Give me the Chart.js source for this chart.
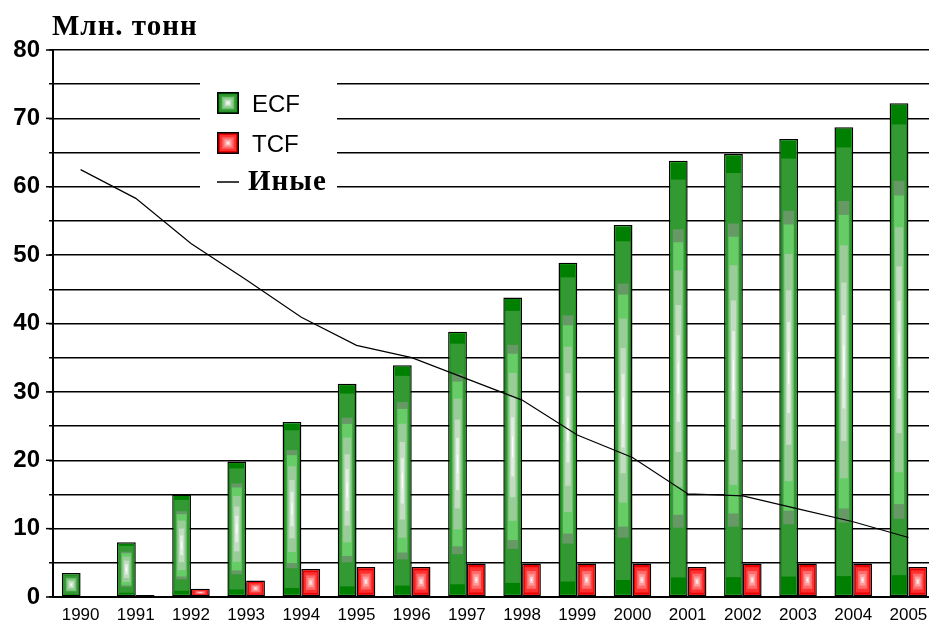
<!DOCTYPE html>
<html>
<head>
<meta charset="utf-8">
<script src="https://cdn.jsdelivr.net/npm/chart.js@4"></script>
<style>
  html, body { margin: 0; padding: 0; background: #fff; overflow: hidden; }
  #wrap { position: absolute; left: 0; top: 0; width: 936px; height: 621px; }
</style>
</head>
<body>
<div id="wrap"><canvas id="c"></canvas></div>
<script>
// Production by bleaching technology, million tonnes
const years = ['1990','1991','1992','1993','1994','1995','1996','1997','1998','1999','2000','2001','2002','2003','2004','2005'];
const ecfValues = [3.5, 8.0, 15.0, 19.8, 25.6, 31.2, 33.9, 38.8, 43.8, 48.9, 54.4, 63.8, 64.8, 67.0, 68.7, 72.2];
const tcfValues = [null, 0.3, 1.2, 2.4, 4.1, 4.4, 4.4, 4.9, 4.9, 4.9, 4.9, 4.4, 4.9, 4.9, 4.9, 4.4];
const otherValues = [62.5, 58.3, 51.7, 46.4, 40.9, 36.8, 35.0, 31.9, 28.8, 23.7, 20.4, 15.1, 14.8, 12.9, 11.0, 8.7];
const seriesLabels = ['ECF', 'TCF', 'Иные'];
const unitLabel = 'Млн. тонн';
const yTicks = { min: 0, max: 80, step: 5, labelStep: 10 };

// Stepped "from centre" shading: [fraction of half-size inset, colour]
const GREEN_BANDS = [[0,'#008000'],[0.08,'#339933'],[0.31,'#669966'],[0.37,'#66cc66'],[0.5,'#99cc99'],[0.66,'#c2dcc2'],[0.8,'#e3eee3'],[0.93,'#ffffff']];
const RED_BANDS = [[0,'#e80000'],[0.15,'#ff3030'],[0.4,'#ff6a6a'],[0.62,'#ff9d9d'],[0.8,'#ffcfcf'],[0.93,'#ffffff']];

function boxFill(ctx, left, top, w, h, bands) {
  const hw = w / 2, hh = h / 2;
  for (const [t, c] of bands) {
    ctx.fillStyle = c;
    ctx.fillRect(left + t * hw, top + t * hh, w - 2 * t * hw, h - 2 * t * hh);
  }
}

// Paints the shaded interior of every bar, inside the library-drawn border
const barShading = {
  id: 'barShading',
  afterDatasetDraw(chart, args) {
    const meta = args.meta;
    if (meta.type !== 'bar') return;
    const ds = chart.data.datasets[args.index];
    const bands = ds.shade === 'red' ? RED_BANDS : GREEN_BANDS;
    const bw = ds.borderWidth;
    const ctx = chart.ctx;
    ctx.save();
    meta.data.forEach((el, i) => {
      if (ds.data[i] == null) return;
      const p = el.getProps(['x', 'y', 'base', 'width'], true);
      const left = p.x - p.width / 2 + bw;
      const top = Math.min(p.y, p.base) + bw;
      const w = p.width - 2 * bw;
      const h = Math.abs(p.base - p.y) - 2 * bw;
      if (w > 0 && h > 0) boxFill(ctx, left, top, w, h, bands);
    });
    ctx.restore();
  }
};

// Longer tick marks at labelled values, unit caption and the inset legend
const decorations = {
  id: 'decorations',
  afterDraw(chart) {
    const ctx = chart.ctx;
    const ys = chart.scales.y;
    const left = chart.chartArea.left;
    ctx.save();
    ctx.strokeStyle = '#000';
    ctx.lineWidth = 1.5;
    for (let v = yTicks.min; v <= yTicks.max; v += yTicks.labelStep) {
      const py = ys.getPixelForValue(v);
      ctx.beginPath();
      ctx.moveTo(left - 7, py);
      ctx.lineTo(left, py);
      ctx.stroke();
    }

    // unit caption
    ctx.fillStyle = '#000';
    ctx.font = 'bold 29px "Liberation Serif", "DejaVu Serif", serif';
    ctx.letterSpacing = '1px';
    ctx.textAlign = 'left';
    ctx.textBaseline = 'alphabetic';
    ctx.fillText(unitLabel, 52, 35);
    ctx.letterSpacing = '0px';

    // legend
    ctx.fillStyle = '#fff';
    ctx.fillRect(200, 62, 137, 138);
    const swatch = (x, y, bands) => {
      ctx.fillStyle = '#000';
      ctx.fillRect(x, y, 22, 22);
      boxFill(ctx, x + 1.5, y + 1.5, 19, 19, bands);
    };
    swatch(217, 92, GREEN_BANDS);
    swatch(217, 132, RED_BANDS);
    ctx.fillStyle = '#000';
    ctx.font = '24px "Liberation Sans", Arial, sans-serif';
    ctx.textBaseline = 'alphabetic';
    ctx.fillText(chart.data.datasets[1].label, 252, 112);
    ctx.fillText(chart.data.datasets[2].label, 252, 152);
    ctx.beginPath();
    ctx.strokeStyle = '#000';
    ctx.lineWidth = 1.5;
    ctx.moveTo(217, 182);
    ctx.lineTo(239, 182);
    ctx.stroke();
    ctx.font = 'bold 29px "Liberation Serif", "DejaVu Serif", serif';
    ctx.letterSpacing = '1px';
    ctx.fillText(chart.data.datasets[0].label, 248, 190);
    ctx.letterSpacing = '0px';
    ctx.restore();
  }
};

Chart.defaults.font.family = '"Liberation Sans", Arial, sans-serif';
Chart.defaults.color = '#000';

new Chart(document.getElementById('c'), {
  type: 'bar',
  data: {
    labels: years,
    datasets: [
      {
        type: 'line',
        label: seriesLabels[2],
        data: otherValues,
        borderColor: '#000',
        borderWidth: 1.2,
        pointRadius: 0,
        tension: 0,
        fill: false,
        order: 0
      },
      {
        label: seriesLabels[0],
        data: ecfValues,
        shade: 'green',
        backgroundColor: '#66cc66',
        borderColor: '#000',
        borderWidth: 1.5,
        borderSkipped: false,
        categoryPercentage: 0.68,
        barPercentage: 1.0,
        order: 1
      },
      {
        label: seriesLabels[1],
        data: tcfValues,
        shade: 'red',
        backgroundColor: '#ff6666',
        borderColor: '#000',
        borderWidth: 1.5,
        borderSkipped: false,
        categoryPercentage: 0.68,
        barPercentage: 1.0,
        order: 2
      }
    ]
  },
  options: {
    responsive: true,
    maintainAspectRatio: false,
    devicePixelRatio: 1,
    animation: false,
    layout: { padding: { top: 50, right: 0, left: 0, bottom: 0 } },
    plugins: {
      legend: { display: false },
      tooltip: { enabled: false },
      title: { display: false }
    },
    scales: {
      x: {
        grid: { display: false },
        border: { display: true, color: '#000', width: 2 },
        ticks: {
          font: { size: 17 },
          color: '#000',
          padding: 0,
          maxRotation: 0,
          autoSkip: false
        },
        afterFit(scale) { scale.height = 24; }
      },
      y: {
        min: yTicks.min,
        max: yTicks.max,
        grid: {
          color: '#000',
          lineWidth: 1.5,
          drawTicks: true,
          tickLength: 4,
          tickColor: '#000',
          tickWidth: 1.5
        },
        border: { display: true, color: '#000', width: 2 },
        ticks: {
          stepSize: yTicks.step,
          padding: 9,
          font: { size: 24, weight: 'bold' },
          color: '#000',
          callback: (v) => (v % yTicks.labelStep === 0 ? v : '')
        },
        afterFit(scale) { scale.width = 53; }
      }
    }
  },
  plugins: [barShading, decorations]
});
</script>
</body>
</html>
